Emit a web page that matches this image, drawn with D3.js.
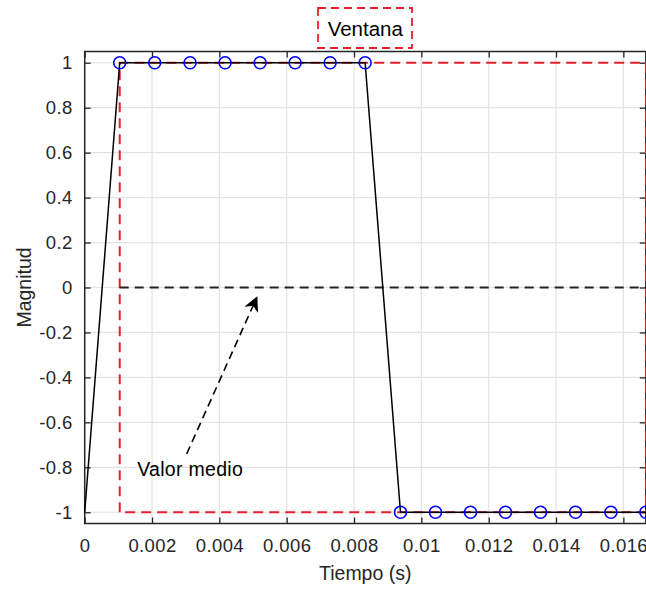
<!DOCTYPE html>
<html>
<head>
<meta charset="utf-8">
<script src="https://cdn.jsdelivr.net/npm/d3@7"></script>
<style>
  body { margin: 0; background: #fff; }
  svg { display: block; font-family: "Liberation Sans", Arial, sans-serif; }
</style>
</head>
<body>
<div id="chart"></div>
<script>
// Data ---------------------------------------------------------------------------------------------------------------
const sampleTimes = [0, 0.00104, 0.00208, 0.00313, 0.00417, 0.00521, 0.00625, 0.00729, 0.00833,
  0.00938, 0.01042, 0.01146, 0.0125, 0.01354, 0.01458, 0.01563, 0.01667];
const sampleValues = [-1, 1, 1, 1, 1, 1, 1, 1, 1, -1, -1, -1, -1, -1, -1, -1, -1];
const markerFrom = 1; // first sample drawn with a circle

const windowBox = [0.00104, 0.01667, -1, 1]; // x0, x1, y0, y1
const meanValue = 0;
const arrowFrom = [0.00303, -0.74];
const arrowTo = [0.00511, -0.045];
const labelPos = [0.00156, -0.84];

const xTicks = [0, 0.002, 0.004, 0.006, 0.008, 0.01, 0.012, 0.014, 0.016];
const yTicks = [-1, -0.8, -0.6, -0.4, -0.2, 0, 0.2, 0.4, 0.6, 0.8, 1];

// Canvas -------------------------------------------------------------------------------------------------------------
const canvasWidth = 646;
const canvasHeight = 589;
const plotLeft = 84.7, plotRight = 645.8, plotTop = 51.5, plotBottom = 523.5;
const tickFontSize = 18.5;
const labelFontSize = 19.5;
const axisColor = "#262626";

const svg = d3.select("#chart").append("svg")
  .attr("width", canvasWidth)
  .attr("height", canvasHeight);

const x = d3.scaleLinear().domain([0, 1 / 60]).range([plotLeft, plotRight]);
const y = d3.scaleLinear().domain([-1.05, 1.05]).range([plotBottom, plotTop]);

// Grid
svg.append("g")
  .selectAll("line")
  .data(xTicks)
  .join("line")
  .attr("x1", d => x(d)).attr("x2", d => x(d))
  .attr("y1", plotTop).attr("y2", plotBottom)
  .style("stroke", "#e3e3e3").style("stroke-width", 1.2);
svg.append("g")
  .selectAll("line")
  .data(yTicks)
  .join("line")
  .attr("x1", plotLeft).attr("x2", plotRight)
  .attr("y1", d => y(d)).attr("y2", d => y(d))
  .style("stroke", "#e3e3e3").style("stroke-width", 1.2);

// Axes
const tickLen = 6;
const plainFormat = d => String(d);
const xAxis = svg.append("g")
  .attr("transform", "translate(0," + plotBottom + ")")
  .call(d3.axisBottom(x).tickValues(xTicks).tickSize(-tickLen).tickPadding(15).tickFormat(plainFormat));
const xAxisTop = svg.append("g")
  .attr("transform", "translate(0," + plotTop + ")")
  .call(d3.axisTop(x).tickValues(xTicks).tickSize(-tickLen).tickFormat(""));
const yAxis = svg.append("g")
  .attr("transform", "translate(" + plotLeft + ",0)")
  .call(d3.axisLeft(y).tickValues(yTicks).tickSize(-tickLen).tickPadding(12).tickFormat(plainFormat));
const yAxisRight = svg.append("g")
  .attr("transform", "translate(" + plotRight + ",0)")
  .call(d3.axisRight(y).tickValues(yTicks).tickSize(-tickLen).tickFormat(""));

[xAxis, xAxisTop, yAxis, yAxisRight].forEach(function(a) {
  a.select(".domain").remove();
  a.selectAll("line").style("stroke", axisColor).style("stroke-width", 1.3);
  a.selectAll("text")
    .style("font-size", tickFontSize + "px")
    .style("letter-spacing", "0.4px")
    .style("fill", axisColor)
    .style("font-family", "'Liberation Sans', Arial, sans-serif");
});

svg.append("rect")
  .attr("x", plotLeft).attr("y", plotTop)
  .attr("width", plotRight - plotLeft).attr("height", plotBottom - plotTop)
  .style("fill", "none").style("stroke", axisColor).style("stroke-width", 1.5);

// Labels
svg.append("text")
  .text("Tiempo (s)")
  .attr("x", (plotLeft + plotRight) / 2)
  .attr("y", 580)
  .style("text-anchor", "middle")
  .style("font-size", labelFontSize + "px")
  .style("fill", axisColor);

svg.append("text")
  .text("Magnitud")
  .attr("transform", "translate(31," + (plotTop + plotBottom) / 2 + ") rotate(-90)")
  .style("text-anchor", "middle")
  .style("font-size", labelFontSize + "px")
  .style("fill", axisColor);

// Title with dashed box
svg.append("text")
  .text("Ventana")
  .attr("x", (plotLeft + plotRight) / 2)
  .attr("y", 36)
  .style("text-anchor", "middle")
  .style("font-size", "20.5px")
  .style("fill", "#000");
svg.append("rect")
  .attr("x", 318).attr("y", 8)
  .attr("width", 94).attr("height", 40)
  .style("fill", "none")
  .style("stroke", "#e8202a")
  .style("stroke-width", 1.8)
  .style("stroke-dasharray", "8,5");

// Plot ---------------------------------------------------------------------------------------------------------------
const samples = sampleTimes.map((t, i) => ({ t: t, v: sampleValues[i] }));

// Window rectangle (red dashed)
svg.append("path")
  .attr("d", d3.line()([
    [x(windowBox[0]), y(windowBox[2])],
    [x(windowBox[0]), y(windowBox[3])],
    [x(windowBox[1]), y(windowBox[3])],
    [x(windowBox[1]), y(windowBox[2])],
    [x(windowBox[0]), y(windowBox[2])]
  ]))
  .style("fill", "none")
  .style("stroke", "#e8202a")
  .style("stroke-width", 2)
  .style("stroke-dasharray", "10,6");

// Mean line
svg.append("line")
  .attr("x1", x(windowBox[0])).attr("x2", x(windowBox[1]))
  .attr("y1", y(meanValue)).attr("y2", y(meanValue))
  .style("stroke", "#222")
  .style("stroke-width", 1.8)
  .style("stroke-dasharray", "9,6");

// Signal
svg.append("path")
  .datum(samples)
  .attr("d", d3.line().x(d => x(d.t)).y(d => y(d.v)))
  .style("fill", "none")
  .style("stroke", "#000")
  .style("stroke-width", 1.5);

svg.append("g")
  .selectAll("circle")
  .data(samples.slice(markerFrom))
  .join("circle")
  .attr("cx", d => x(d.t))
  .attr("cy", d => y(d.v))
  .attr("r", 6)
  .style("fill", "none")
  .style("stroke", "#0000ff")
  .style("stroke-width", 1.6);

// Annotation arrow
svg.append("defs").append("marker")
  .attr("id", "head")
  .attr("viewBox", "0 0 10 10")
  .attr("refX", 9).attr("refY", 5)
  .attr("markerWidth", 15).attr("markerHeight", 15)
  .attr("markerUnits", "userSpaceOnUse")
  .attr("orient", "auto")
  .append("path")
  .attr("d", "M0,0 L10,5 L0,10 L3,5 Z")
  .style("fill", "#000");

svg.append("line")
  .attr("x1", x(arrowFrom[0])).attr("y1", y(arrowFrom[1]))
  .attr("x2", x(arrowTo[0])).attr("y2", y(arrowTo[1]))
  .style("stroke", "#000")
  .style("stroke-width", 1.6)
  .style("stroke-dasharray", "8,5")
  .attr("marker-end", "url(#head)");

svg.append("text")
  .text("Valor medio")
  .attr("x", x(labelPos[0]))
  .attr("y", y(labelPos[1]))
  .style("font-size", labelFontSize + "px")
  .style("letter-spacing", "0.3px")
  .style("fill", "#000");
</script>
</body>
</html>
